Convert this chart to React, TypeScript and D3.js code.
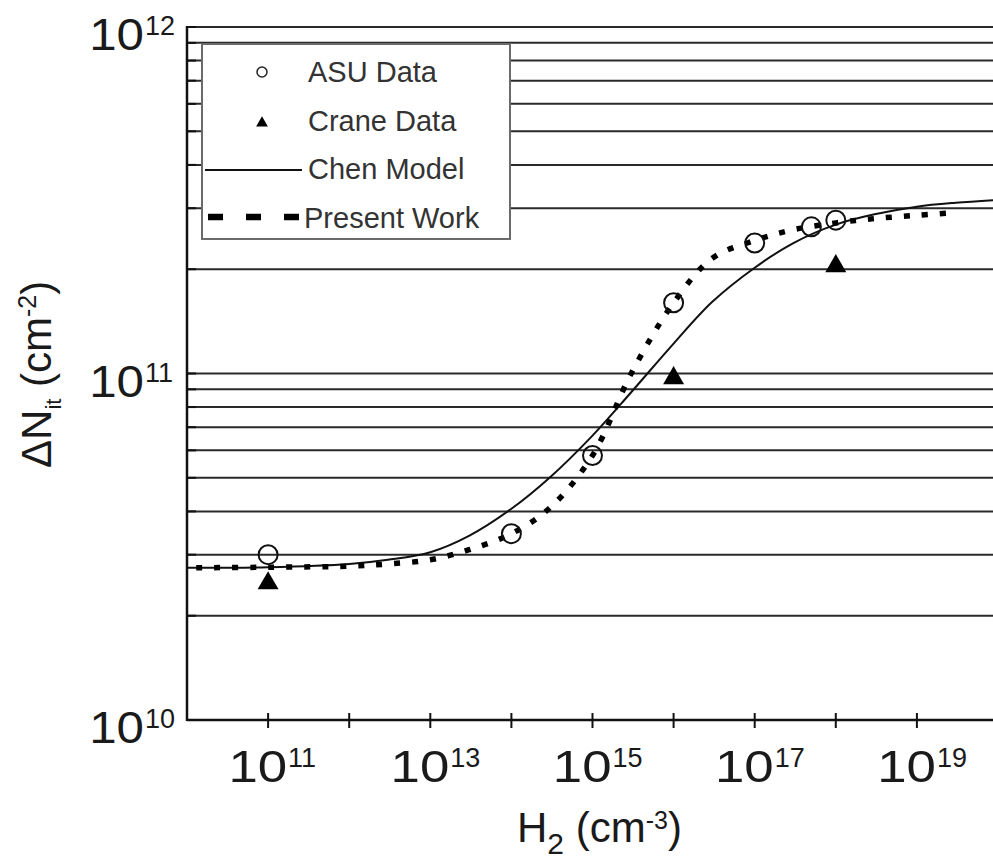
import React from "react";
import * as d3 from "d3";

// datos (H2 en cm^-3, dNit en cm^-2)
const asuH = [1e11, 1e14, 1e15, 1e16, 1e17, 5e17, 1e18];
const asuN = [3.0e10, 3.45e10, 5.8e10, 1.6e11, 2.38e11, 2.65e11, 2.77e11];

const craneH = [1e11, 1e16, 1e18];
const craneN = [2.48e10, 9.7e10, 2.04e11];

const chenH = [1e10, 1e11, 1e12, 3e12, 1e13, 3e13, 1e14, 3e14, 1e15, 3e15, 1e16, 3e16, 1e17, 3e17, 1e18, 3e18, 1e19, 3e19, 1e20];
const chenN = [2.75e10, 2.76e10, 2.82e10, 2.9e10, 3.05e10, 3.4e10, 4.07e10, 5.02e10, 6.62e10, 8.83e10, 1.22e11, 1.61e11, 2.02e11, 2.38e11, 2.69e11, 2.88e11, 3.03e11, 3.11e11, 3.17e11];

const presentH = [1.3e10, 1e11, 1e12, 3e12, 1e13, 3e13, 1e14, 3e14, 1e15, 3e15, 1e16, 3e16, 1e17, 3e17, 1e18, 3e18, 1e19, 2.3e19];
const presentN = [2.75e10, 2.76e10, 2.78e10, 2.82e10, 2.9e10, 3.1e10, 3.45e10, 4.1e10, 5.8e10, 1.0e11, 1.6e11, 2.15e11, 2.42e11, 2.6e11, 2.72e11, 2.8e11, 2.86e11, 2.9e11];

const xLabelExps = [11, 13, 15, 17, 19];
const yLabelExps = [10, 11, 12];
const legendLabels = ["ASU Data", "Crane Data", "Chen Model", "Present Work"];

const W = 993;
const H = 859;
const font = "'Liberation Sans', Arial, Helvetica, sans-serif";

export default function App() {
  const x = d3.scaleLog().domain([1e10, 1e20]).range([187, 998]);
  const y = d3.scaleLog().domain([1e10, 1e12]).range([720, 27]);

  const line = d3
    .line<[number, number]>()
    .x((d) => x(d[0]))
    .y((d) => y(d[1]))
    .curve(d3.curveCatmullRom.alpha(0.5));

  const chen = line(chenH.map((h, i) => [h, chenN[i]]) as [number, number][]);
  const present = line(presentH.map((h, i) => [h, presentN[i]]) as [number, number][]);

  const yTicks = y.ticks();
  const xTicks = x.ticks().filter((t) => t > 1e10);
  const tri = d3.symbol(d3.symbolTriangle, 190)();
  const triSmall = d3.symbol(d3.symbolTriangle, 60)();

  const x0 = x.range()[0];
  const yBottom = y.range()[0];
  const yTop = y.range()[1];

  return (
    <svg
      width={W}
      height={H}
      style={{ position: "absolute", left: 0, top: 0, background: "#fff" }}
      fontFamily={font}
    >
      {/* lineas de grilla horizontales */}
      {yTicks
        .filter((t) => t > 1e10)
        .map((t, i) => (
          <line key={"g" + i} x1={x0} x2={W} y1={y(t)} y2={y(t)} stroke="#2a2a2a" strokeWidth={2} />
        ))}

      {/* marcas del eje Y */}
      {yTicks.map((t, i) => (
        <line key={"yt" + i} x1={x0} x2={x0 + 9} y1={y(t)} y2={y(t)} stroke="#111" strokeWidth={2} />
      ))}

      {/* ejes */}
      <line x1={x0} x2={x0} y1={yTop - 1} y2={yBottom + 1} stroke="#111" strokeWidth={2.5} />
      <line x1={x0} x2={W} y1={yBottom} y2={yBottom} stroke="#111" strokeWidth={2.5} />
      {xTicks.map((t, i) => (
        <line key={"xt" + i} x1={x(t)} x2={x(t)} y1={yBottom - 7} y2={yBottom + 8} stroke="#111" strokeWidth={2} />
      ))}

      {/* curvas */}
      <path d={chen || ""} fill="none" stroke="#111" strokeWidth={2} />
      <path d={present || ""} fill="none" stroke="#000" strokeWidth={5.5} strokeDasharray="6 12" />

      {/* ASU: circulos abiertos */}
      {asuH.map((h, i) => (
        <circle key={"a" + i} cx={x(h)} cy={y(asuN[i])} r={9.5} fill="none" stroke="#111" strokeWidth={2} />
      ))}

      {/* Crane: triangulos llenos */}
      {craneH.map((h, i) => (
        <path key={"c" + i} d={tri || ""} transform={`translate(${x(h)},${y(craneN[i])})`} fill="#000" />
      ))}

      {/* leyenda */}
      <rect x={202} y={44} width={308} height={195} fill="#fff" stroke="#6b6b6b" strokeWidth={2} />
      <circle cx={262} cy={72} r={5} fill="none" stroke="#222" strokeWidth={1.5} />
      <path d={triSmall || ""} transform="translate(262,123)" fill="#000" />
      <line x1={205} x2={302} y1={170} y2={170} stroke="#111" strokeWidth={2} />
      <line x1={208} x2={303} y1={217} y2={217} stroke="#000" strokeWidth={6.5} strokeDasharray="15 23" />
      {legendLabels.map((lab, i) => (
        <text key={"l" + i} x={i === 3 ? 304 : 308} y={82 + i * 48.7} fontSize={29} fill="#333">
          {lab}
        </text>
      ))}

      {/* etiquetas del eje X */}
      {xLabelExps.map((e) => {
        const tx = x(Math.pow(10, e));
        return (
          <g key={"xl" + e} transform={`translate(${tx},782)`} fill="#1a1a1a">
            <text x={19 / 1.2} textAnchor="end" fontSize={44} transform="scale(1.2,1)">
              10
            </text>
            <text x={20} y={-15} fontSize={27}>
              {e}
            </text>
          </g>
        );
      })}

      {/* etiquetas del eje Y */}
      {yLabelExps.map((e) => {
        const ty = y(Math.pow(10, e));
        return (
          <g key={"yl" + e} transform={`translate(0,${ty})`} fill="#1a1a1a">
            <text x={144 / 1.12} y={23} textAnchor="end" fontSize={44} transform="scale(1.12,1)">
              10
            </text>
            <text x={145} y={8} fontSize={27}>
              {e}
            </text>
          </g>
        );
      })}

      {/* titulos de ejes */}
      <text x={517} y={842} fontSize={42} fill="#1a1a1a">
        H
        <tspan fontSize={30} dy={12}>2</tspan>
        <tspan fontSize={42} dy={-12}> (cm</tspan>
        <tspan fontSize={25} dy={-13}>-3</tspan>
        <tspan fontSize={42} dy={13}>)</tspan>
      </text>
      <text transform="translate(51,468) rotate(-90)" fontSize={42} fill="#1a1a1a">
        ΔN
        <tspan fontSize={22} dy={10}>it</tspan>
        <tspan fontSize={42} dy={-10}> (cm</tspan>
        <tspan fontSize={25} dy={-15}>-2</tspan>
        <tspan fontSize={42} dy={15}>)</tspan>
      </text>
    </svg>
  );
}
